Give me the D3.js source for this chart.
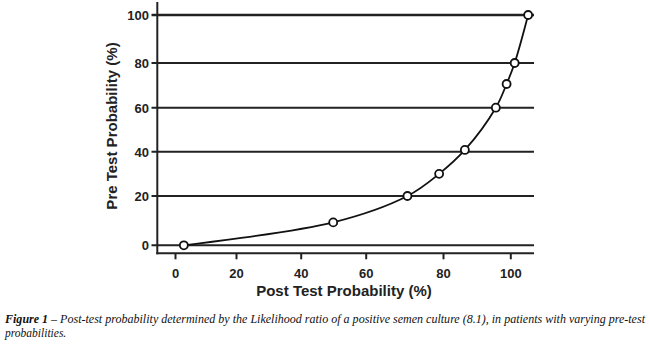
<!DOCTYPE html>
<html><head><meta charset="utf-8">
<script src="https://cdn.jsdelivr.net/npm/d3@7"></script>
<style>body{margin:0;background:#fff}svg{display:block}</style>
</head><body>
<svg id="c" width="650" height="346"></svg>
<script>
// Data
const postTest = [2.9, 50, 70.8, 79, 86.5, 95.7, 98.9, 101.3, 105.3];
const preTest  = [0, 9.3, 20, 30, 40.8, 60, 70.6, 80, 100];
const xTicks = [0, 20, 40, 60, 80, 100];
const yTicks = [0, 20, 40, 60, 80, 100];
const xTitle = "Post Test Probability (%)";
const yTitle = "Pre Test Probability (%)";
const captionBold = "Figure 1";
const captionLine1 = " – Post-test probability determined by the Likelihood ratio of a positive semen culture (8.1), in patients with varying pre-test";
const captionLine2 = "probabilities.";

const svg = d3.select("#c");
const ink = "#222";
// The original's axes are not evenly spaced; piecewise-linear scales reproduce them.
const x = d3.scaleLinear().domain(xTicks).range([175, 236, 300.7, 365.7, 443, 510.3]);
const y = d3.scaleLinear().domain(yTicks).range([245.3, 196, 151.7, 107.7, 63, 15]);
const axisLeftX = 157.3, axisBottomY = 253.3, rightX = 534;

// gridlines (extend left through tick marks)
svg.append("g").selectAll("line").data(yTicks).join("line")
  .attr("x1", 151.5).attr("x2", rightX)
  .attr("y1", d => y(d)).attr("y2", d => y(d))
  .attr("stroke", ink).attr("stroke-width", d => d === 100 ? 2.6 : 2);

// axes lines
svg.append("line").attr("x1", axisLeftX).attr("x2", axisLeftX).attr("y1", 2).attr("y2", axisBottomY + 1)
  .attr("stroke", ink).attr("stroke-width", 2);
svg.append("line").attr("x1", axisLeftX - 1).attr("x2", rightX).attr("y1", axisBottomY).attr("y2", axisBottomY)
  .attr("stroke", ink).attr("stroke-width", 2);

// y axis labels
const yAxis = d3.axisLeft(y).tickValues(yTicks).tickSize(0).tickPadding(0);
const gy = svg.append("g").attr("transform", `translate(149,0)`).call(yAxis);
gy.select(".domain").remove();
gy.selectAll("text").attr("font-family", "Liberation Sans, Arial, sans-serif")
  .attr("font-weight", "bold").attr("font-size", 13).attr("fill", ink).attr("dy", "0.36em").attr("x", 0);

// x axis ticks and labels
const xAxis = d3.axisBottom(x).tickValues(xTicks).tickSize(6).tickPadding(9);
const gx = svg.append("g").attr("transform", `translate(0,${axisBottomY})`).call(xAxis);
gx.select(".domain").remove();
gx.selectAll("line").attr("stroke", ink).attr("stroke-width", 2);
gx.selectAll("text").attr("font-family", "Liberation Sans, Arial, sans-serif")
  .attr("font-weight", "bold").attr("font-size", 13).attr("fill", ink);

// titles
svg.append("text").attr("x", 344).attr("y", 296).attr("text-anchor", "middle")
  .attr("font-family", "Liberation Sans, Arial, sans-serif").attr("font-weight", "bold")
  .attr("font-size", 15).attr("fill", ink).text(xTitle);
svg.append("text").attr("transform", "translate(117,126) rotate(-90)").attr("text-anchor", "middle")
  .attr("font-family", "Liberation Sans, Arial, sans-serif").attr("font-weight", "bold")
  .attr("font-size", 15).attr("fill", ink).text(yTitle);

// curve
const pts = postTest.map((v, i) => [v, preTest[i]]);
svg.append("path").datum(pts)
  .attr("d", d3.line().x(d => x(d[0])).y(d => y(d[1])).curve(d3.curveCatmullRom.alpha(0.5)))
  .attr("fill", "none").attr("stroke", "#111").attr("stroke-width", 1.8);

svg.append("g").selectAll("circle").data(pts).join("circle")
  .attr("cx", d => x(d[0])).attr("cy", d => y(d[1])).attr("r", 4)
  .attr("fill", "#fff").attr("stroke", "#111").attr("stroke-width", 1.8);

// caption
const cap = svg.append("text").attr("x", 5).attr("y", 323)
  .attr("font-family", "Liberation Serif, Times New Roman, serif").attr("font-style", "italic")
  .attr("font-size", 11.5).attr("fill", "#111")
  .attr("textLength", 640).attr("lengthAdjust", "spacingAndGlyphs");
cap.append("tspan").attr("font-weight", "bold").text(captionBold);
cap.append("tspan").text(captionLine1);
svg.append("text").attr("x", 5).attr("y", 337)
  .attr("font-family", "Liberation Serif, Times New Roman, serif").attr("font-style", "italic")
  .attr("font-size", 11.5).attr("fill", "#111").text(captionLine2);
</script>
</body></html>
